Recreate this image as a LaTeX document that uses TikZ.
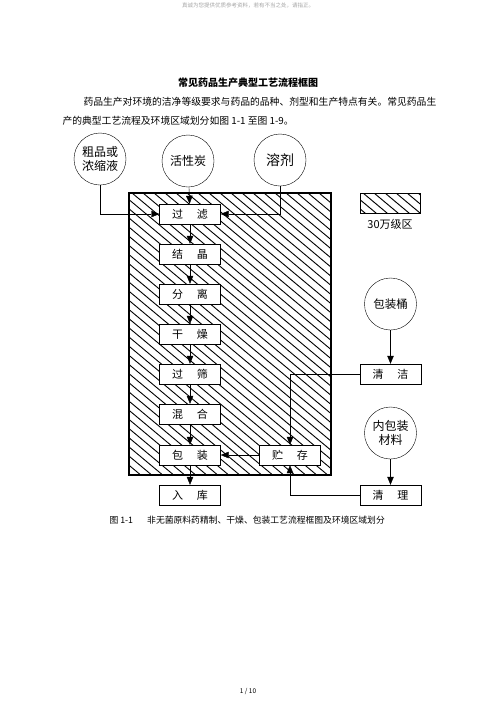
\documentclass[tikz,border=0pt]{standalone}
\usepackage{fontspec}
\setmainfont{Noto Sans CJK SC}
\usetikzlibrary{arrows.meta}

\newcommand{\wide}[2]{#1\hspace{1.25em}#2}

\tikzset{
  proc/.style={draw, fill=white, minimum width=61pt, minimum height=20pt, inner sep=0pt,
    font=\fontsize{11}{11}\selectfont},
  src/.style={draw, circle, minimum size=52pt, inner sep=0pt, align=center,
    font=\fontsize{12}{14}\selectfont},
  flow/.style={-{Triangle[length=8pt,width=6.5pt]}},
  hatch/.style={line width=0.9pt}
}

\begin{document}
\begin{tikzpicture}[x=1pt,y=-1pt]
    \pgfmathsetmacro{\colX}{190}
    \pgfmathsetmacro{\rightX}{390.5}
    \pgfmathsetmacro{\storeX}{290}
    \useasboundingbox[fill=white] (0,0) rectangle (496,702);

    % Kopf- und Fusszeile
    \node[gray!70, font=\fontsize{5.5}{6}\selectfont] (head) at (248,5) {真诚为您提供优质参考资料，若有不当之处，请指正。};
    \node[font=\fontsize{6.5}{7}\selectfont] (foot) at (248,691) {1 / 10};

    % Titel und Text
    \node[font=\fontsize{10}{10}\selectfont\bfseries] (title) at (248,83) {常见药品生产典型工艺流程框图};
    \node[anchor=west, font=\fontsize{9.8}{10}\selectfont] (line1) at (80,102) {药品生产对环境的洁净等级要求与药品的品种、剂型和生产特点有关。常见药品生};
    \node[anchor=west, font=\fontsize{9.8}{10}\selectfont] (line2) at (59,121) {产的典型工艺流程及环境区域划分如图 1-1 至图 1-9。};

    % 30万级区
    \begin{scope}
      \clip (129,193) rectangle (331,475);
      \foreach \i in {-360,-349,...,210}
        \draw[hatch] (129+\i,193) -- ++(400,333);
    \end{scope}
    \draw[line width=1.2pt] (129,193) rectangle (331,475);

    % Legende
    \begin{scope}
      \clip (360,193) rectangle (420.5,213);
      \foreach \i in {-30,-19,...,60}
        \draw[hatch] (360+\i,193) -- ++(30,25);
    \end{scope}
    \draw[line width=1pt] (360,193) rectangle (420.5,213);
    \node[font=\fontsize{11}{11}\selectfont] (legend) at (390,224) {30万级区};

    % Ausgangsstoffe
    \node[src] (crude) at (100,159) {粗品或\\浓缩液};
    \node[src] (carbon) at (188,161) {活性炭};
    \node[src, font=\fontsize{14}{14}\selectfont] (solvent) at (280,160) {溶剂};
    \node[src, font=\fontsize{11.5}{12}\selectfont] (barrel) at (\rightX,304) {包装桶};
    \node[src] (inner) at (\rightX,433) {内包装\\材料};

    % Prozesskette
    \node[proc] (filter) at (\colX,214) {\wide{过}{滤}};
    \node[proc] (cryst) at (\colX,254) {\wide{结}{晶}};
    \node[proc] (sep) at (\colX,294) {\wide{分}{离}};
    \node[proc] (dry) at (\colX,334) {\wide{干}{燥}};
    \node[proc] (sieve) at (\colX,374) {\wide{过}{筛}};
    \node[proc] (mix) at (\colX,414) {\wide{混}{合}};
    \node[proc] (pack) at (\colX,455) {\wide{包}{装}};
    \node[proc] (stock) at (\colX,495) {\wide{入}{库}};
    \node[proc] (store) at (\storeX,455) {\wide{贮}{存}};
    \node[proc] (clean) at (\rightX,374) {\wide{清}{洁}};
    \node[proc] (sort) at (\rightX,495) {\wide{清}{理}};

    % Pfeile
    \draw[flow] (crude) |- (filter);
    \draw[flow] (carbon) -- (filter);
    \draw[flow] (solvent) |- (filter);
    \foreach \a/\b in {filter/cryst, cryst/sep, sep/dry, dry/sieve, sieve/mix, mix/pack, pack/stock}
      \draw[flow] (\a) -- (\b);
    \draw[flow] (store) -- (pack);
    \draw[flow] (barrel) -- (clean);
    \draw[flow] (inner) -- (sort);
    \draw[flow] (clean) -| (store);
    \draw[flow] (sort) -| (store);

    % Bildunterschrift
    \node[anchor=west, font=\fontsize{8.8}{9}\selectfont] (caption) at (106,520) {图 1-1\hspace{1.6em}非无菌原料药精制、干燥、包装工艺流程框图及环境区域划分};
\end{tikzpicture}
\end{document}
